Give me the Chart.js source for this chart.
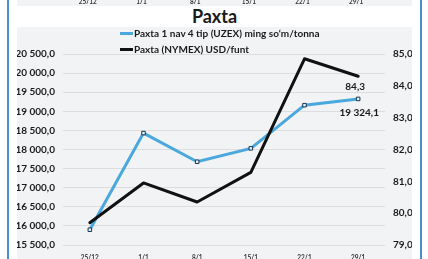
<!DOCTYPE html>
<html>
<head>
<meta charset="utf-8">
<script src="https://cdn.jsdelivr.net/npm/chart.js@4/dist/chart.umd.min.js"></script>
<style>
  html, body { margin:0; padding:0; background:#ffffff; }
  body { width:428px; height:259px; position:relative; overflow:hidden; font-family:Lato, "Liberation Sans", sans-serif; }
  .vline { position:absolute; top:0; width:2px; height:259px; background:#4a8fd6; }
  .panel { position:absolute; background:#f2f3f5; }
  #wrap { position:absolute; left:17px; top:0; width:395px; height:259px; }
  #title { position:absolute; left:17px; width:395px; top:5px; text-align:center; font-weight:700; font-size:18px; line-height:22px; color:#1a1a1a; }
  #legend { position:absolute; left:120px; top:25px; font-weight:700; font-size:10px; color:#1a1a1a; }
  .li { height:16px; display:flex; align-items:center; white-space:nowrap; }
  .sw { width:13px; height:3px; margin-right:1px; }
</style>
</head>
<body>
<div class="vline" style="left:7px"></div>
<div class="vline" style="left:420px"></div>
<div class="panel" style="left:17px; top:0; width:395px; height:6px"></div>
<div class="panel" style="left:17px; top:27px; width:395px; height:232px"></div>
<div id="title">Paxta</div>
<div id="wrap"><canvas id="c" width="395" height="259"></canvas></div>
<div id="legend"></div>
<script>
const categories = ["25/12", "1/1", "8/1", "15/1", "22/1", "29/1"];
const uzexLabel = "Paxta 1 nav 4 tip (UZEX) ming so‘m/tonna";
const uzexValues = [15900, 18430, 17680, 18030, 19160, 19324.1];
const nymexLabel = "Paxta (NYMEX) USD/funt";
const nymexValues = [79.7, 80.95, 80.35, 81.28, 84.85, 84.3];
const leftTicks = { min: 15500, max: 20500, step: 500 };
const rightTicks = { min: 79, max: 85, step: 1 };

const BLUE = "#4aa8dc";
const BLACK = "#111111";

function fmt(v, dec) {
  const s = v.toFixed(dec);
  const parts = s.split(".");
  const intPart = parts[0].replace(/\B(?=(\d{3})+(?!\d))/g, " ");
  return parts.length > 1 ? intPart + "," + parts[1] : intPart;
}

const FONT = "Lato, 'Liberation Sans', sans-serif";

const extras = {
  id: "extras",
  afterDatasetsDraw(chart) {
    const ctx = chart.ctx;
    ctx.save();
    ctx.font = "700 10px " + FONT;
    ctx.fillStyle = "#1a1a1a";
    ctx.textAlign = "center";
    ctx.textBaseline = "middle";
    const mU = chart.getDatasetMeta(0).data;
    const mN = chart.getDatasetMeta(1).data;
    const lastU = mU[mU.length - 1], lastN = mN[mN.length - 1];
    ctx.fillText(fmt(uzexValues[uzexValues.length - 1], 1), lastU.x + 1, lastU.y + 14);
    ctx.fillText(fmt(nymexValues[nymexValues.length - 1], 1), lastN.x - 3, lastN.y + 10);
    // clipped labels of the chart above (top strip)
    ctx.font = "700 6.5px " + FONT;
    ctx.textBaseline = "alphabetic";
    ctx.fillStyle = "#333";
    const xs = chart.scales.x;
    categories.forEach((c, i) => ctx.fillText(c, xs.getPixelForValue(i) - 2, 3.5));
    ctx.restore();
  }
};

const chart = new Chart(document.getElementById("c"), {
  type: "line",
  data: {
    labels: categories,
    datasets: [
      {
        label: uzexLabel, data: uzexValues, yAxisID: "y", order: 1,
        borderColor: BLUE, borderWidth: 3, tension: 0,
        pointStyle: "rect", pointRadius: 2.5, pointBorderWidth: 1,
        pointBackgroundColor: "#dff0fa", pointBorderColor: "#1d3550"
      },
      {
        label: nymexLabel, data: nymexValues, yAxisID: "y1", order: 0,
        borderColor: BLACK, borderWidth: 3, tension: 0, pointRadius: 0,
        borderJoinStyle: "round", borderCapStyle: "round"
      }
    ]
  },
  options: {
    responsive: false, animation: false,
    layout: { padding: { top: 54, left: 0, right: 0, bottom: 0 } },
    plugins: { legend: { display: false }, title: { display: false }, tooltip: { enabled: false } },
    scales: {
      x: {
        offset: true,
        grid: { display: false }, border: { display: false },
        ticks: { font: { family: FONT, size: 6.5, weight: "700" }, color: "#333", padding: 1, maxRotation: 0 },
        afterFit(s) { s.height = 14; }
      },
      y: {
        position: "left", min: leftTicks.min, max: leftTicks.max,
        ticks: { stepSize: leftTicks.step, font: { family: FONT, size: 10, weight: "700" }, color: "#1a1a1a", padding: 8,
                 callback: v => fmt(v, 1) },
        grid: { color: "#dcdde0", lineWidth: 1, drawTicks: false }, border: { display: false },
        afterFit(s) { s.width = 46; }
      },
      y1: {
        position: "right", min: rightTicks.min, max: rightTicks.max,
        ticks: { stepSize: rightTicks.step, font: { family: FONT, size: 10, weight: "700" }, color: "#1a1a1a", padding: 8,
                 callback: v => fmt(v, 1) },
        grid: { display: false, drawTicks: false }, border: { display: false },
        afterFit(s) { s.width = 27; }
      }
    }
  },
  plugins: [extras]
});

const leg = document.getElementById("legend");
chart.data.datasets.forEach(ds => {
  const row = document.createElement("div");
  row.className = "li";
  const sw = document.createElement("span");
  sw.className = "sw";
  sw.style.background = ds.borderColor;
  row.appendChild(sw);
  row.appendChild(document.createTextNode(ds.label));
  leg.appendChild(row);
});
</script>
</body>
</html>
